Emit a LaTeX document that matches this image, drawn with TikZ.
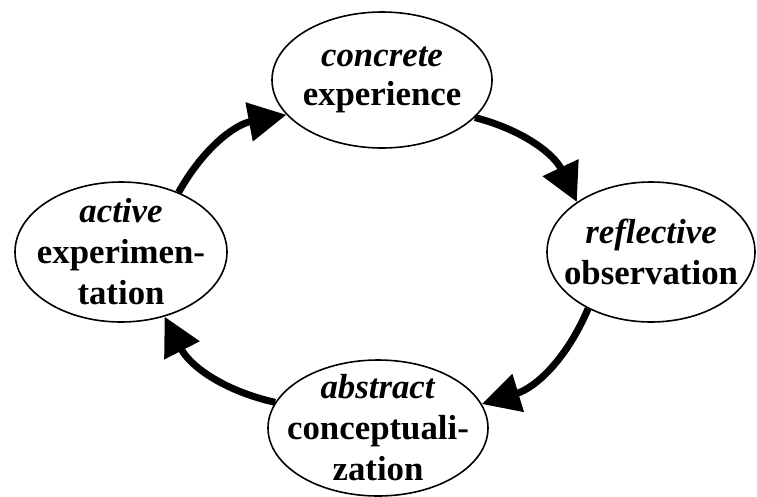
\documentclass[tikz,border=0pt]{standalone}
\usepackage{fontspec}
\setmainfont{Liberation Serif}
\usetikzlibrary{shapes.geometric,arrows.meta}

\begin{document}
\begin{tikzpicture}[
    x=1pt, y=-1pt,
    stage/.style={
      ellipse,
      draw,
      line width=1.6pt,
      inner sep=-30pt,
      align=center,
      font=\fontsize{34.8}{41}\selectfont\bfseries
    },
    flow/.style={
      line width=7pt,
      -{Triangle[length=38pt,width=38pt]}
    }]

    \useasboundingbox (0,0) rectangle (757,496);

    % concrete experience
    \draw (382,80) node[stage, minimum width=220pt, minimum height=136pt] (T) {\textit{concrete}\\[-2pt]experience};
    % reflective observation
    \draw (651,252) node[stage, minimum width=208pt, minimum height=140pt] (R) {\textit{reflective}\\observation};
    % abstract conceptualization
    \draw (378,428) node[stage, minimum width=220pt, minimum height=136pt] (B) {\textit{abstract}\\conceptuali-\\zation};
    % active experimentation
    \draw (121,252) node[stage, minimum width=212pt, minimum height=140pt] (L) {\textit{active}\\experimen-\\tation};

    % arrows
    \draw[flow] (L.46) to[bend left=25] (T.200);
    \draw[flow] (T.338) to[bend left=25] (R.146);
    \draw[flow] (R.222) to[bend left=25] (B.13);
    \draw[flow] (B.166) to[bend left=25] (L.304);
  \end{tikzpicture}
\end{document}
